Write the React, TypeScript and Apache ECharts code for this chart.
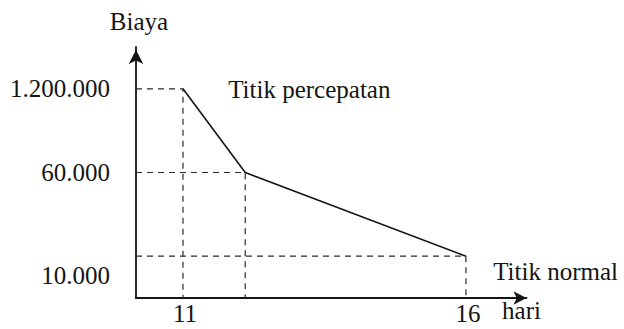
import React, { useEffect, useRef } from 'react';
import * as echarts from 'echarts';

// Project duration (hari) and the matching cost (Biaya) at each point
const days = [11, 12.1, 16];
const costs = ['1.200.000', '60.000', '10.000'];
const pointNames = ['Titik percepatan', '', 'Titik normal'];

// Cost levels on the vertical axis, from the origin upwards
const costLevels = ['', '', '10.000', '', '', '', '60.000', '', '', '', '1.200.000', '', ''];

// Day ticks printed on the horizontal axis
const dayTicks = [11, 16];

const X_MIN = 10.17;
const X_MAX = 17.07;
const FONT = '"Liberation Serif", "DejaVu Serif", serif';
const FONT_SIZE = 25;
const INK = '#141414';

const levelOf = (label: string) => costLevels.indexOf(label);

export default function App() {
  const ref = useRef<HTMLDivElement>(null);

  useEffect(() => {
    if (!ref.current) return;
    const chart = echarts.init(ref.current, undefined, { renderer: 'svg' });

    const labelOffsets: Record<string, number[]> = {
      'Titik percepatan': [40, 1],
      'Titik normal': [22, 15],
    };

    const mainData = days.map((d, i) => ({
      value: [d, levelOf(costs[i])],
      name: pointNames[i],
      label: { offset: labelOffsets[pointNames[i]] || [0, 0] },
    }));

    // Dashed guides: from the cost axis across to each point, then down to the day axis
    const guideSeries = days.map((d, i) => ({
      type: 'line',
      silent: true,
      symbol: 'none',
      z: 1,
      lineStyle: { color: '#2a2a2a', width: 1.2, type: [6, 5] },
      data: [
        [X_MIN, levelOf(costs[i])],
        [d, levelOf(costs[i])],
        [d, 0],
      ],
    }));

    const text = { fontFamily: FONT, fontSize: FONT_SIZE, color: INK };

    chart.setOption({
      animation: false,
      backgroundColor: '#ffffff',
      textStyle: { fontFamily: FONT },
      grid: { left: 136, right: 97.5, top: 47, bottom: 31, containLabel: false },
      xAxis: {
        type: 'value',
        min: X_MIN,
        max: X_MAX,
        name: 'hari',
        nameLocation: 'end',
        nameGap: -5,
        nameTextStyle: {
          ...text,
          align: 'center',
          verticalAlign: 'top',
          padding: [0, 0, 0, 0],
        },
        splitLine: { show: false },
        axisTick: { show: false },
        axisLine: {
          show: true,
          symbol: ['none', 'arrow'],
          symbolSize: [10, 13],
          lineStyle: { color: INK, width: 1.8 },
        },
        axisLabel: {
          ...text,
          customValues: dayTicks,
          formatter: (v: number) => String(v),
          margin: 3,
          padding: [0, 0, 0, 4],
        },
      },
      yAxis: {
        type: 'category',
        data: costLevels,
        boundaryGap: false,
        name: 'Biaya',
        nameLocation: 'end',
        nameGap: 13,
        nameTextStyle: { ...text, align: 'center', padding: [0, 0, 0, 6] },
        splitLine: { show: false },
        axisTick: { show: false },
        axisLine: {
          show: true,
          symbol: ['none', 'arrow'],
          symbolSize: [11, 14],
          symbolOffset: [0, -3],
          lineStyle: { color: INK, width: 1.8 },
        },
        axisLabel: {
          ...text,
          interval: 0,
          margin: 26,
          formatter: (v: string) => (v === '10.000' ? '{low|' + v + '}' : v),
          rich: {
            low: { ...text, padding: [38, 0, 0, 0] },
          },
        },
      },
      series: [
        ...guideSeries,
        {
          type: 'line',
          z: 3,
          symbol: 'circle',
          symbolSize: 0.5,
          showSymbol: true,
          showAllSymbol: true,
          itemStyle: { color: 'transparent', borderWidth: 0 },
          lineStyle: { color: INK, width: 1.6 },
          label: {
            ...text,
            show: true,
            position: 'right',
            formatter: (p: any) => p.name || '',
          },
          data: mainData,
        },
      ],
    });

    return () => chart.dispose();
  }, []);

  return (
    <div
      ref={ref}
      style={{ position: 'fixed', left: 0, top: 0, width: 624, height: 329 }}
    />
  );
}
